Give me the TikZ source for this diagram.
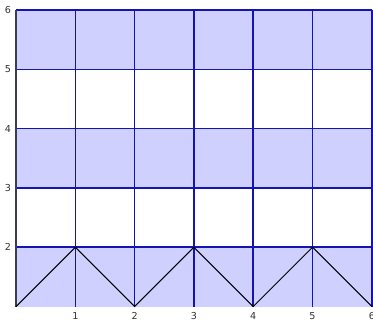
\documentclass[tikz,border=0pt]{standalone}
\usepackage{fontspec}
\setmainfont{DejaVu Sans}
\definecolor{cellfill}{RGB}{208,208,255}
\definecolor{gridblue}{RGB}{20,20,180}
\definecolor{axisgray}{RGB}{60,60,80}
\definecolor{labelgray}{RGB}{50,50,50}
\tikzset{
  band/.style={fill=cellfill, draw=none},
  gridline/.style={draw=gridblue, line width=0.7pt},
  axisline/.style={draw=axisgray, line width=1pt},
  zig/.style={draw=black, line width=0.5pt},
  ticklabel/.style={text=labelgray, font=\fontsize{4.6}{5}\selectfont, inner sep=0pt}
}
\begin{document}
\begin{tikzpicture}
\useasboundingbox (-0.27,0.755) rectangle (6.02,6.169);
% bands
\fill[band] (0,1) rectangle (6,2);
\fill[band] (0,3) rectangle (6,4);
\fill[band] (0,5) rectangle (6,6);
% grid
\foreach \x in {1,...,6} \draw[gridline] (\x,1) -- (\x,6);
\foreach \y in {2,...,6} \draw[gridline] (0,\y) -- (6,\y);
% axis
\draw[axisline] (0,1) -- (0,6);
% zigzag
\coordinate (p0) at (0,1);
\coordinate (p1) at (1,2);
\coordinate (p2) at (2,1);
\coordinate (p3) at (3,2);
\coordinate (p4) at (4,1);
\coordinate (p5) at (5,2);
\coordinate (p6) at (6,1);
\draw[zig] (p0) -- (p1) -- (p2) -- (p3) -- (p4) -- (p5) -- (p6);
% labels
\foreach \y in {2,...,6} \node[ticklabel] (yl\y) at (-0.135,\y) {\y};
\foreach \x in {1,...,6} \node[ticklabel] (xl\x) at (\x,0.84) {\x};
\end{tikzpicture}
\end{document}
